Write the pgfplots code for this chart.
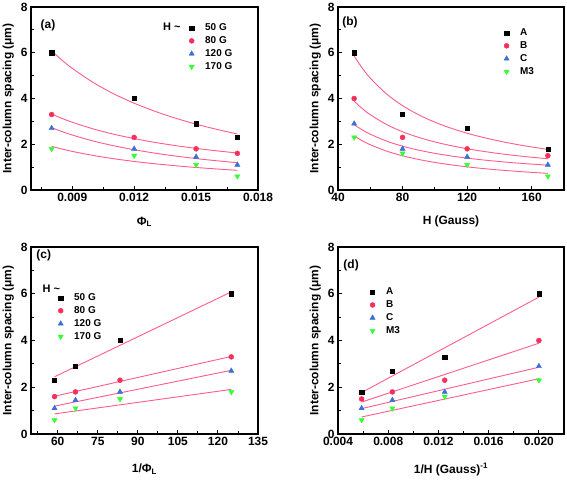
\documentclass[border=0pt]{standalone}
\usepackage{fontspec}
\setmainfont{Liberation Sans}
\usepackage{pgfplots}
\pgfplotsset{compat=1.18}

\definecolor{mred}{HTML}{F5305A}
\definecolor{mblue}{HTML}{3A6FD8}
\definecolor{mgreen}{HTML}{33FF33}
\definecolor{fitc}{HTML}{FF5C8D}

\pgfplotsset{
 panel/.style={
  scale only axis, width=227bp, anchor=north west,
  ymin=0, ymax=8, ytick={0,2,4,6,8}, minor ytick={1,3,5,7},
  tick align=inside, tick pos=left,
  major tick length=4bp, minor tick length=2.5bp,
  axis line style={line width=1.1bp},
  every tick/.style={line width=0.9bp, black},
  scaled x ticks=false,
  /pgf/number format/assume math mode=true,
  tick label style={font=\fontsize{12}{14}\selectfont\bfseries},
  label style={font=\fontsize{12}{14}\selectfont\bfseries},
  ylabel={Inter-column spacing (μm)},
  ylabel style={at={(axis description cs:-0.1,0.5)}, anchor=center},
  legend style={draw=none, fill=none, font=\fontsize{10}{12}\selectfont\bfseries,
    anchor=north west, inner sep=0pt, row sep=1.5pt, nodes={inner sep=1.5pt}},
  legend cell align=left,
  legend image code/.code={\path[draw=none,fill=none] (0bp,0bp) -- (17bp,0bp); \draw[##1] plot coordinates {(5bp,0bp)};},
 },
 s1/.style={only marks, mark=square*, mark size=2.1bp, black},
 s2/.style={only marks, mark=*, mark size=2.5bp, mred},
 s3/.style={only marks, mark=triangle*, mark size=3bp, mblue},
 s4/.style={only marks, mark=triangle*, mark size=3bp, mgreen, mark options={rotate=180}},
 fit/.style={fitc, line width=0.9bp, smooth, no marks, forget plot},
}

\begin{document}
\begin{tikzpicture}
\useasboundingbox (0,0) rectangle (567bp,-483bp);

% ---------------- (a)
\begin{axis}[panel, at={(31bp,-7bp)}, height=183bp,
  xmin=0.007, xmax=0.018,
  xtick={0.009,0.012,0.015,0.018}, xticklabels={0.009,0.012,0.015,0.018},
  minor xtick={0.0075,0.0105,0.0135,0.0165},
  xlabel={Φ\textsubscript{L}},
  xlabel style={at={(axis description cs:0.5,-0.174)}, anchor=center},
  legend style={at={(rel axis cs:0.685,0.918)}},
]
\addplot[fit] coordinates {(0.008,6.079)(0.0085,5.676)(0.009,5.318)(0.010,4.708)(0.011,4.209)(0.012,3.794)(0.013,3.442)(0.014,3.141)(0.015,2.879)(0.016,2.651)(0.017,2.449)};
\addplot[fit] coordinates {(0.008,3.318)(0.0085,3.129)(0.009,2.961)(0.010,2.675)(0.011,2.441)(0.012,2.247)(0.013,2.082)(0.014,1.941)(0.015,1.819)(0.016,1.712)(0.017,1.617)};
\addplot[fit] coordinates {(0.008,2.724)(0.0085,2.554)(0.009,2.403)(0.010,2.145)(0.011,1.935)(0.012,1.760)(0.013,1.611)(0.014,1.484)(0.015,1.374)(0.016,1.278)(0.017,1.193)};
\addplot[fit] coordinates {(0.008,1.907)(0.0085,1.791)(0.009,1.687)(0.010,1.512)(0.011,1.368)(0.012,1.248)(0.013,1.147)(0.014,1.060)(0.015,0.984)(0.016,0.919)(0.017,0.860)};
\addplot[s1] coordinates {(0.008,6.0)(0.012,4.0)(0.015,2.9)(0.017,2.3)};
\addplot[s2] coordinates {(0.008,3.3)(0.012,2.3)(0.015,1.8)(0.017,1.6)};
\addplot[s3] coordinates {(0.008,2.7)(0.012,1.8)(0.015,1.45)(0.017,1.1)};
\addplot[s4] coordinates {(0.008,1.8)(0.012,1.5)(0.015,1.1)(0.017,0.6)};
\legend{50 G,80 G,120 G,170 G}
\node[font=\fontsize{12}{14}\selectfont\bfseries] at (rel axis cs:0.075,0.897) {(a)};
\node[font=\fontsize{11}{13}\selectfont\bfseries] at (rel axis cs:0.62,0.89) {H \textasciitilde};
\end{axis}

% ---------------- (b)
\begin{axis}[panel, at={(338bp,-7bp)}, width=226bp, height=183bp,
  xmin=40, xmax=180,
  xtick={40,80,120,160}, minor xtick={60,100,140,180},
  xlabel={H (Gauss)},
  xlabel style={at={(axis description cs:0.5,-0.174)}, anchor=center},
  legend style={at={(rel axis cs:0.723,0.89)}},
]
\addplot[fit] coordinates {(50,5.856)(55,5.330)(60,4.892)(70,4.204)(80,3.687)(90,3.286)(100,2.964)(110,2.702)(120,2.482)(130,2.297)(140,2.138)(150,2.001)(160,1.880)(170,1.774)};
\addplot[fit] coordinates {(50,3.884)(55,3.560)(60,3.290)(70,2.865)(80,2.546)(90,2.299)(100,2.101)(110,1.939)(120,1.803)(130,1.689)(140,1.591)(150,1.506)(160,1.432)(170,1.366)};
\addplot[fit] coordinates {(50,2.856)(55,2.628)(60,2.438)(70,2.139)(80,1.915)(90,1.741)(100,1.602)(110,1.488)(120,1.393)(130,1.313)(140,1.244)(150,1.184)(160,1.132)(170,1.086)};
\addplot[fit] coordinates {(50,2.364)(55,2.154)(60,1.978)(70,1.702)(80,1.495)(90,1.334)(100,1.205)(110,1.100)(120,1.012)(130,0.938)(140,0.874)(150,0.819)(160,0.771)(170,0.728)};
\addplot[s1] coordinates {(50,6.0)(80,3.3)(120,2.7)(170,1.8)};
\addplot[s2] coordinates {(50,4.0)(80,2.3)(120,1.8)(170,1.5)};
\addplot[s3] coordinates {(50,2.9)(80,1.8)(120,1.45)(170,1.1)};
\addplot[s4] coordinates {(50,2.3)(80,1.6)(120,1.1)(170,0.6)};
\legend{A,B,C,M3}
\node[font=\fontsize{12}{14}\selectfont\bfseries] at (rel axis cs:0.053,0.918) {(b)};
\end{axis}

% ---------------- (c)
\begin{axis}[panel, at={(31bp,-247bp)}, height=187bp,
  xmin=50, xmax=135,
  xtick={60,75,90,105,120,135}, minor xtick={52.5,67.5,82.5,97.5,112.5,127.5},
  xlabel={1/Φ\textsubscript{L}},
  xlabel style={at={(axis description cs:0.5,-0.19)}, anchor=center},
  legend style={at={(rel axis cs:0.108,0.76)}},
]
\addplot[fit] coordinates {(58.82,2.449)(125,6.079)};
\addplot[fit] coordinates {(58.82,1.617)(125,3.318)};
\addplot[fit] coordinates {(58.82,1.193)(125,2.724)};
\addplot[fit] coordinates {(58.82,0.860)(125,1.907)};
\addplot[s1] coordinates {(125,6.0)(83.33,4.0)(66.67,2.9)(58.82,2.3)};
\addplot[s2] coordinates {(125,3.3)(83.33,2.3)(66.67,1.8)(58.82,1.6)};
\addplot[s3] coordinates {(125,2.7)(83.33,1.8)(66.67,1.45)(58.82,1.1)};
\addplot[s4] coordinates {(125,1.8)(83.33,1.5)(66.67,1.1)(58.82,0.6)};
\legend{50 G,80 G,120 G,170 G}
\node[font=\fontsize{12}{14}\selectfont\bfseries] at (rel axis cs:0.056,0.957) {(c)};
\node[font=\fontsize{11}{13}\selectfont\bfseries] at (rel axis cs:0.09,0.775) {H \textasciitilde};
\end{axis}

% ---------------- (d)
\begin{axis}[panel, at={(338bp,-247bp)}, width=226bp, height=187bp,
  xmin=0.004, xmax=0.022,
  xtick={0.004,0.008,0.012,0.016,0.020}, xticklabels={0.004,0.008,0.012,0.016,0.020},
  minor xtick={0.006,0.010,0.014,0.018,0.022},
  xlabel={1/H (Gauss)\textsuperscript{-1}},
  xlabel style={at={(axis description cs:0.5,-0.19)}, anchor=center},
  legend style={at={(rel axis cs:0.13,0.79)}},
]
\addplot[fit] coordinates {(0.00588,1.774)(0.02,5.856)};
\addplot[fit] coordinates {(0.00588,1.366)(0.02,3.884)};
\addplot[fit] coordinates {(0.00588,1.086)(0.02,2.856)};
\addplot[fit] coordinates {(0.00588,0.728)(0.02,2.364)};
\addplot[s1] coordinates {(0.02,6.0)(0.0125,3.3)(0.00833,2.7)(0.00588,1.8)};
\addplot[s2] coordinates {(0.02,4.0)(0.0125,2.3)(0.00833,1.8)(0.00588,1.5)};
\addplot[s3] coordinates {(0.02,2.9)(0.0125,1.8)(0.00833,1.45)(0.00588,1.1)};
\addplot[s4] coordinates {(0.02,2.3)(0.0125,1.6)(0.00833,1.1)(0.00588,0.6)};
\legend{A,B,C,M3}
\node[font=\fontsize{12}{14}\selectfont\bfseries] at (rel axis cs:0.058,0.9) {(d)};
\end{axis}
\end{tikzpicture}
\end{document}
